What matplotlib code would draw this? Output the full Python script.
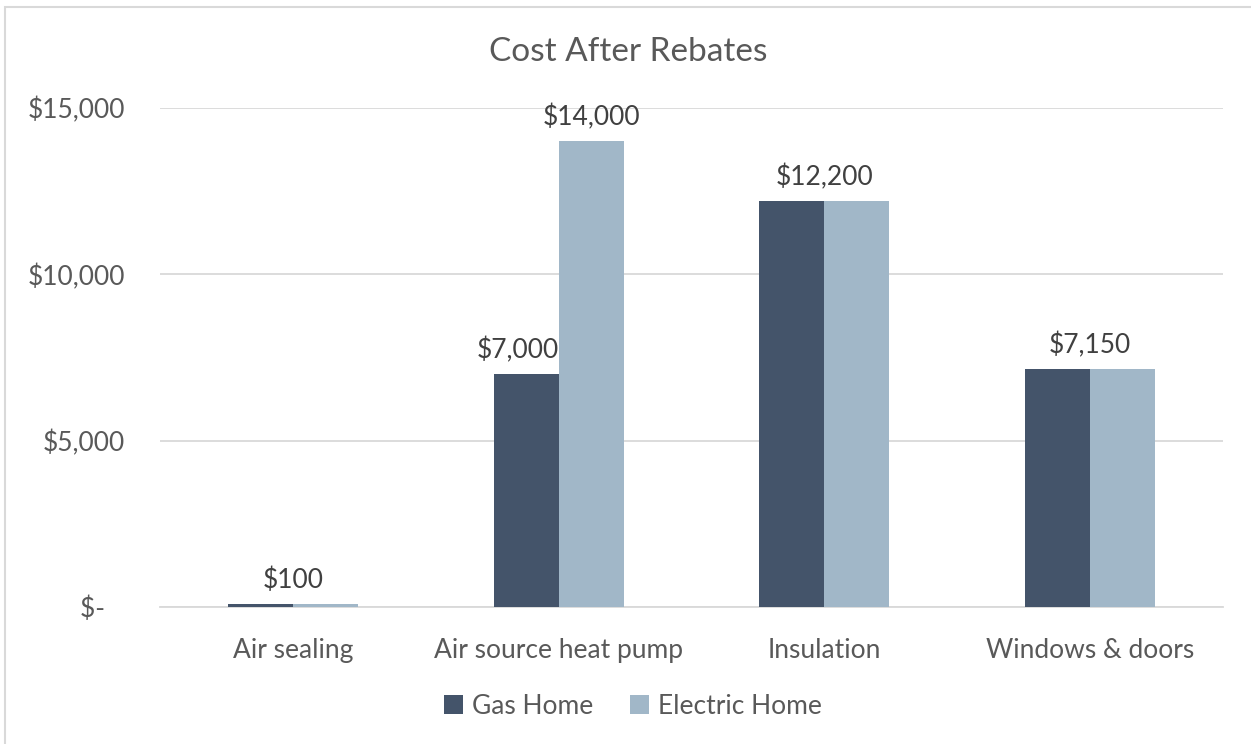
import matplotlib
matplotlib.use("Agg")
import matplotlib.pyplot as plt
from matplotlib.patches import Rectangle
import numpy as np

categories = ["Air sealing", "Air source heat pump", "Insulation", "Windows & doors"]
gas_home = [100, 7000, 12200, 7150]
electric_home = [100, 14000, 12200, 7150]
series_names = ["Gas Home", "Electric Home"]
y_ticks = [0, 5000, 10000, 15000]
y_tick_labels = ["$-   ", "$5,000", "$10,000", "$15,000"]
title = "Cost After Rebates"

GAS = "#44546A"
ELEC = "#A1B7C8"
TXT = "#595959"
LBL = "#404040"
GRID = "#D9D9D9"

plt.rcParams["font.family"] = ["Lato", "DejaVu Sans"]

fig = plt.figure(figsize=(12.51, 7.44), dpi=100)
fig.patches.append(Rectangle((5/1251, -0.1), 1.2, 1 - 7/744 + 0.1, transform=fig.transFigure,
                             fill=False, edgecolor="#D9D9D9", linewidth=1.5))
ax = fig.add_axes([160/1251, 1 - 607/744, 1063/1251, (607 - 108)/744])

x = np.arange(len(categories))
w = 0.245
ax.bar(x - w/2, gas_home, width=w, color=GAS, zorder=3, label=series_names[0])
ax.bar(x + w/2, electric_home, width=w, color=ELEC, zorder=3, label=series_names[1])

def fmt(v):
    return "${:,.0f}".format(v)

FS = 19
for i in range(len(categories)):
    g, e = gas_home[i], electric_home[i]
    if g == e:
        ax.annotate(fmt(g), (x[i], g), xytext=(0, 8), textcoords="offset points",
                    ha="center", va="bottom", fontsize=FS, color=LBL, zorder=2.5)
    else:
        ax.annotate(fmt(g), (x[i] - w/2 - 0.03, g), xytext=(0, 8), textcoords="offset points",
                    ha="center", va="bottom", fontsize=FS, color=LBL, zorder=2.5)
        ax.annotate(fmt(e), (x[i] + w/2, e), xytext=(0, 8), textcoords="offset points",
                    ha="center", va="bottom", fontsize=FS, color=LBL, zorder=2.5)

ax.set_xlim(-0.5, len(categories) - 0.5)
ax.set_ylim(0, 15000)
ax.set_yticks(y_ticks)
ax.set_yticklabels(y_tick_labels)
ax.set_xticks(x)
ax.set_xticklabels(categories)
ax.tick_params(axis="both", length=0, labelsize=FS, colors=TXT)
ax.tick_params(axis="y", pad=25)
ax.tick_params(axis="x", pad=22)
ax.grid(axis="y", color=GRID, linewidth=1.3, zorder=0)
ax.set_axisbelow(True)
for s in ["top", "right", "left"]:
    ax.spines[s].set_visible(False)
ax.spines["bottom"].set_color(GRID)
ax.spines["bottom"].set_linewidth(1.3)

fig.text(628/1251, 1 - 52/744, title, ha="center", va="center", fontsize=24, color=TXT)

leg = fig.legend(loc="center", bbox_to_anchor=(633/1251, 1 - 706/744), ncol=2, frameon=False,
                 fontsize=FS, handlelength=0.7, handleheight=0.7, handletextpad=0.35,
                 columnspacing=1.4, labelcolor=TXT)

fig.savefig("out.png", dpi=100, facecolor="white")
